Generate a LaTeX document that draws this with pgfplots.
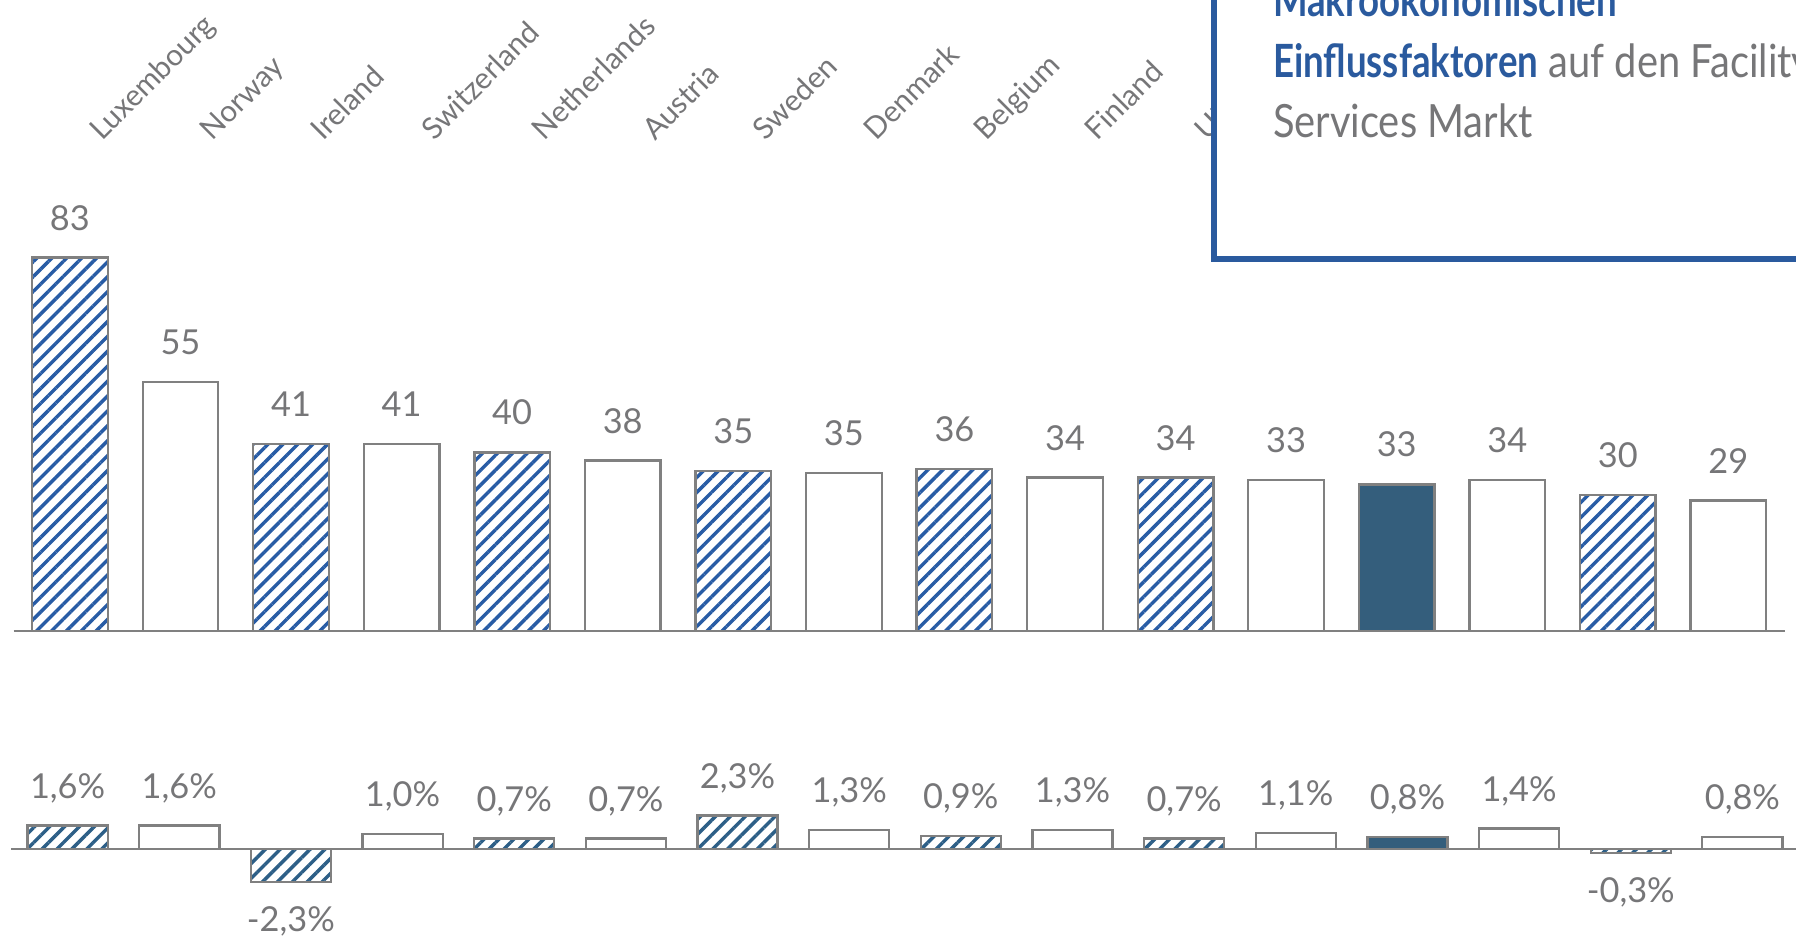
\documentclass[border=0pt]{standalone}
\usepackage{fontspec}
\setmainfont{Lato}
\newfontfamily\boxfont{Lato}[UprightFeatures={FakeStretch=0.87}, BoldFeatures={FakeStretch=0.8}]
\usepackage{pgfplots}
\pgfplotsset{compat=1.18}
\usetikzlibrary{patterns.meta}
\definecolor{txtgray}{RGB}{118,118,120}
\definecolor{edgegray}{RGB}{128,128,128}
\definecolor{hatchblue}{RGB}{40,92,165}
\definecolor{hatchblue2}{RGB}{45,95,135}
\definecolor{darkbar}{RGB}{52,94,124}
\definecolor{boxblue}{RGB}{42,90,158}
\begin{document}
\begin{tikzpicture}[x=1pt,y=1pt]
\useasboundingbox (0,0) rectangle (784,408.5);
\clip (0,0) rectangle (784,408.5);
% ---------------- top chart ----------------
\begin{axis}[
  at={(6pt,133pt)}, anchor=south west,
  scale only axis, width=773pt, height=213pt,
  xmin=-0.508, xmax=15.508, ymin=0, ymax=108.4,
  axis line style={draw=none},
  major tick length=0pt, ytick=\empty,
  xtick={0,...,15},
  xticklabel pos=upper,
  xticklabels={Luxembourg,Norway,Ireland,Switzerland,Netherlands,Austria,Sweden,Denmark,Belgium,Finland,UK,,,,,},
  xticklabel style={font=\fontsize{13}{15}\selectfont, text=txtgray, inner sep=0pt, xshift=14pt, yshift=0.5pt, rotate=45, anchor=base west},
  bar width=33pt,
  clip=false,
  nodes near coords,
  point meta=explicit symbolic,
  every node near coord/.append style={font=\fontsize{15}{17}\selectfont, text=txtgray, inner xsep=0pt, inner ysep=11.5pt, text height=10.5pt, text depth=0pt},
]
\addplot[ybar, bar shift=0pt, draw=edgegray, line width=1pt,
  pattern={Lines[angle=45,distance=4.6pt,line width=1.5pt]}, pattern color=hatchblue]
  coordinates {(0,83)[83] (2,41.6)[41] (4,39.7)[40] (6,35.5)[35] (8,36.0)[36] (10,34.1)[34] (14,30.3)[30]};
\addplot[ybar, bar shift=0pt, draw=edgegray, line width=1pt, fill=white]
  coordinates {(1,55.3)[55] (3,41.6)[41] (5,37.9)[38] (7,35.1)[35] (9,34.1)[34] (11,33.6)[33] (13,33.6)[34] (15,29.0)[29]};
\addplot[ybar, bar shift=0pt, draw=edgegray, line width=1pt, fill=darkbar]
  coordinates {(12,32.6)[33]};
\draw[edgegray, line width=1pt] (axis cs:-0.508,0) -- (axis cs:15.508,0);
\end{axis}
% ---------------- bottom chart ----------------
\begin{axis}[
  at={(5pt,12.8pt)}, anchor=south west,
  scale only axis, width=779pt, height=50.4pt,
  xmin=-0.503, xmax=15.48, ymin=-4, ymax=4,
  axis line style={draw=none},
  major tick length=0pt, ytick=\empty, xtick=\empty,
  bar width=35pt,
  clip=false,
  nodes near coords,
  point meta=explicit symbolic,
  every node near coord/.append style={font=\fontsize{15}{17}\selectfont, text=txtgray, inner xsep=0pt, inner ysep=11.5pt, text height=10.5pt, text depth=0pt},
]
\addplot[ybar, bar shift=0pt, draw=edgegray, line width=1pt,
  pattern={Lines[angle=45,distance=4.6pt,line width=1.5pt]}, pattern color=hatchblue2]
  coordinates {(0,1.6)[{1,6\%}] (4,0.7)[{0,7\%}] (6,2.3)[{2,3\%}] (8,0.9)[{0,9\%}] (10,0.7)[{0,7\%}]};
\addplot[ybar, bar shift=0pt, draw=edgegray, line width=1pt,
  pattern={Lines[angle=45,distance=4.6pt,line width=1.5pt]}, pattern color=hatchblue2,
  every node near coord/.append style={anchor=north, inner ysep=10.5pt}]
  coordinates {(2,-2.3)[{-2,3\%}] (14,-0.3)[{-0,3\%}]};
\addplot[ybar, bar shift=0pt, draw=edgegray, line width=1pt, fill=white]
  coordinates {(1,1.6)[{1,6\%}] (3,1.0)[{1,0\%}] (5,0.7)[{0,7\%}] (7,1.3)[{1,3\%}] (9,1.3)[{1,3\%}] (11,1.1)[{1,1\%}] (13,1.4)[{1,4\%}] (15,0.8)[{0,8\%}]};
\addplot[ybar, bar shift=0pt, draw=edgegray, line width=1pt, fill=darkbar]
  coordinates {(12,0.8)[{0,8\%}]};
\draw[edgegray, line width=1pt] (axis cs:-0.503,0) -- (axis cs:15.6,0);
\end{axis}
% ---------------- overlay box ----------------
\draw[boxblue, line width=2.5pt, fill=white] (530,295.5) rectangle (800,430);
\node[anchor=base west, inner sep=0pt, text=boxblue, font=\boxfont\bfseries\fontsize{20}{24}\selectfont] at (555.5,401.5) {Makroökonomischen};
\node[anchor=base west, inner sep=0pt, text=txtgray, font=\boxfont\fontsize{20}{24}\selectfont] at (555.5,374.5) {\textcolor{boxblue}{\bfseries Einflussfaktoren} auf den Facility};
\node[anchor=base west, inner sep=0pt, text=txtgray, font=\boxfont\fontsize{20}{24}\selectfont] at (555.5,348.5) {Services Markt};
\end{tikzpicture}
\end{document}
